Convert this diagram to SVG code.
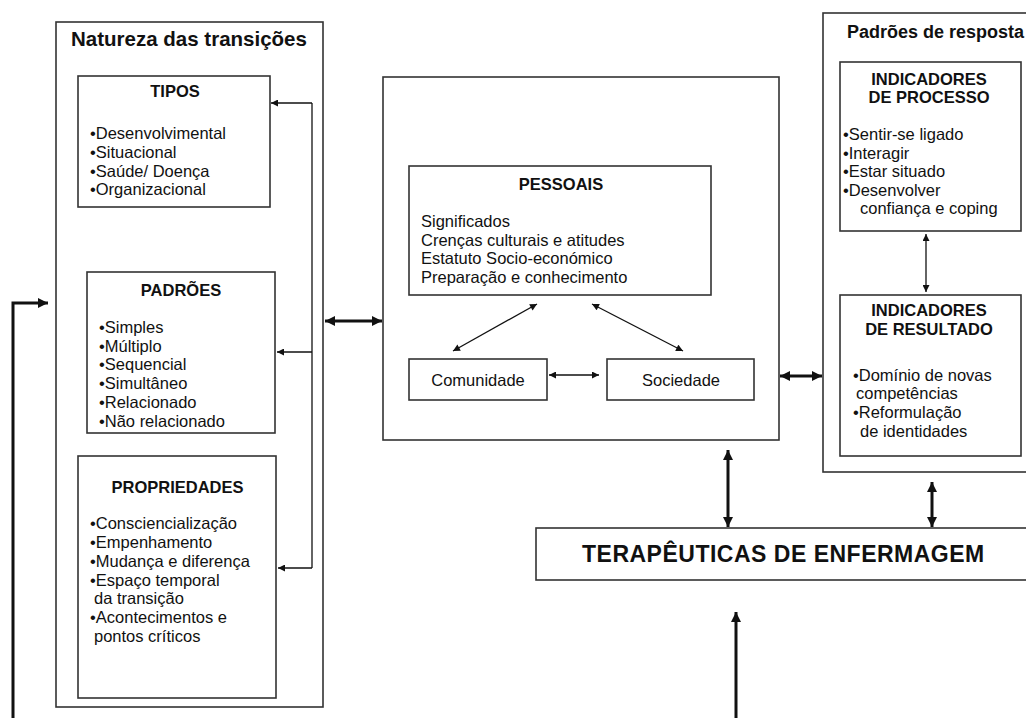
<svg xmlns="http://www.w3.org/2000/svg" width="1026" height="718" viewBox="0 0 1026 718">
<defs>
<marker id="ah" viewBox="0 0 10 10" markerWidth="8" markerHeight="7" refX="10" refY="5" orient="auto-start-reverse" markerUnits="userSpaceOnUse"><path d="M0,0 L10,5 L0,10 z" fill="#111"/></marker>
<marker id="AH" viewBox="0 0 10 10" markerWidth="11" markerHeight="10" refX="10" refY="5" orient="auto-start-reverse" markerUnits="userSpaceOnUse"><path d="M0,0 L10,5 L0,10 z" fill="#111"/></marker>
<style>
.box{fill:#fff;stroke:#333;stroke-width:1.6}
.t{font-family:"Liberation Sans",Arial,sans-serif;font-size:16.5px;fill:#111}
.b{font-weight:bold}
.c{text-anchor:middle}
.thin{stroke:#111;stroke-width:1.3;fill:none}
.thick{stroke:#111;stroke-width:3;fill:none}
</style>
</defs>
<rect width="1026" height="718" fill="#fff"/>

<g id="natureza">
<rect class="box" x="56" y="22" width="267" height="685"/>
<text class="t b c" x="189" y="46" style="font-size:20.5px">Natureza das transições</text>
</g>
<g id="tipos">
<rect class="box" x="78" y="76" width="192" height="131"/>
<text class="t b c" x="175" y="97">TIPOS</text>
<text class="t" x="90" y="139">•Desenvolvimental</text>
<text class="t" x="90" y="158">•Situacional</text>
<text class="t" x="90" y="176.5">•Saúde/ Doença</text>
<text class="t" x="90" y="195">•Organizacional</text>
</g>
<g id="padroes">
<rect class="box" x="87" y="272" width="188" height="161"/>
<text class="t b c" x="181" y="296">PADRÕES</text>
<text class="t" x="99" y="333">•Simples</text>
<text class="t" x="99" y="352">•Múltiplo</text>
<text class="t" x="99" y="370">•Sequencial</text>
<text class="t" x="99" y="389">•Simultâneo</text>
<text class="t" x="99" y="408">•Relacionado</text>
<text class="t" x="99" y="427">•Não relacionado</text>
</g>
<g id="propriedades">
<rect class="box" x="78" y="456" width="198" height="242"/>
<text class="t b c" x="177.5" y="493">PROPRIEDADES</text>
<text class="t" x="90" y="529">•Consciencialização</text>
<text class="t" x="90" y="548">•Empenhamento</text>
<text class="t" x="90" y="567">•Mudança e diferença</text>
<text class="t" x="90" y="586">•Espaço temporal</text>
<text class="t" x="94" y="604">da transição</text>
<text class="t" x="90" y="623">•Acontecimentos e</text>
<text class="t" x="94" y="642">pontos críticos</text>
</g>

<g id="contexto">
<rect class="box" x="383" y="77" width="396" height="363"/>
</g>
<g id="pessoais">
<rect class="box" x="409" y="166" width="302" height="129"/>
<text class="t b c" x="561" y="190">PESSOAIS</text>
<text class="t" x="421" y="227">Significados</text>
<text class="t" x="421" y="246">Crenças culturais e atitudes</text>
<text class="t" x="421" y="264">Estatuto Socio-económico</text>
<text class="t" x="421" y="283">Preparação e conhecimento</text>
</g>
<g id="comunidade">
<rect class="box" x="409" y="359" width="138" height="41"/>
<text class="t c" x="478" y="386">Comunidade</text>
</g>
<g id="sociedade">
<rect class="box" x="607" y="359" width="147" height="41"/>
<text class="t c" x="681" y="386">Sociedade</text>
</g>

<g id="respostas">
<rect class="box" x="823" y="13" width="215" height="459"/>
<text class="t b" x="847" y="38" style="font-size:18px">Padrões de resposta</text>
</g>
<g id="processo">
<rect class="box" x="840" y="62" width="181" height="169"/>
<text class="t b c" x="929" y="85">INDICADORES</text>
<text class="t b c" x="929" y="103">DE PROCESSO</text>
<text class="t" x="843" y="140">•Sentir-se ligado</text>
<text class="t" x="843" y="159">•Interagir</text>
<text class="t" x="843" y="177">•Estar situado</text>
<text class="t" x="843" y="196">•Desenvolver</text>
<text class="t" x="860" y="214">confiança e coping</text>
</g>
<g id="resultado">
<rect class="box" x="840" y="295" width="181" height="161"/>
<text class="t b c" x="929" y="316">INDICADORES</text>
<text class="t b c" x="929" y="335">DE RESULTADO</text>
<text class="t" x="853" y="381">•Domínio de novas</text>
<text class="t" x="856" y="399">competências</text>
<text class="t" x="853" y="418">•Reformulação</text>
<text class="t" x="860" y="437">de identidades</text>
</g>

<g id="terapeuticas">
<rect class="box" x="536" y="528" width="500" height="52"/>
<text class="t b" x="582" y="562" style="font-size:23px;letter-spacing:0.5px">TERAPÊUTICAS DE ENFERMAGEM</text>
</g>

<g id="connectors">
<line class="thin" x1="312" y1="103" x2="312" y2="568"/>
<line class="thin" x1="312" y1="103" x2="271" y2="103" marker-end="url(#ah)"/>
<line class="thin" x1="312" y1="352" x2="277" y2="352" marker-end="url(#ah)"/>
<line class="thin" x1="312" y1="568" x2="278" y2="568" marker-end="url(#ah)"/>
<path class="thick" d="M13,718 L13,303 L48,303" marker-end="url(#AH)"/>
<line class="thick" x1="325" y1="321" x2="382" y2="321" marker-start="url(#AH)" marker-end="url(#AH)"/>
<line class="thin" x1="537" y1="304" x2="453" y2="351" marker-start="url(#ah)" marker-end="url(#ah)"/>
<line class="thin" x1="592" y1="304" x2="683" y2="351" marker-start="url(#ah)" marker-end="url(#ah)"/>
<line class="thin" x1="549" y1="375" x2="599" y2="375" marker-start="url(#ah)" marker-end="url(#ah)"/>
<line class="thick" x1="780" y1="376" x2="822" y2="376" marker-start="url(#AH)" marker-end="url(#AH)"/>
<line class="thin" x1="926" y1="234" x2="926" y2="292" marker-start="url(#ah)" marker-end="url(#ah)"/>
<line class="thick" x1="728" y1="450" x2="728" y2="527" marker-start="url(#AH)" marker-end="url(#AH)"/>
<line class="thick" x1="932" y1="482" x2="932" y2="527" marker-start="url(#AH)" marker-end="url(#AH)"/>
<line class="thick" x1="736" y1="718" x2="736" y2="612" marker-end="url(#AH)"/>
</g>
</svg>
